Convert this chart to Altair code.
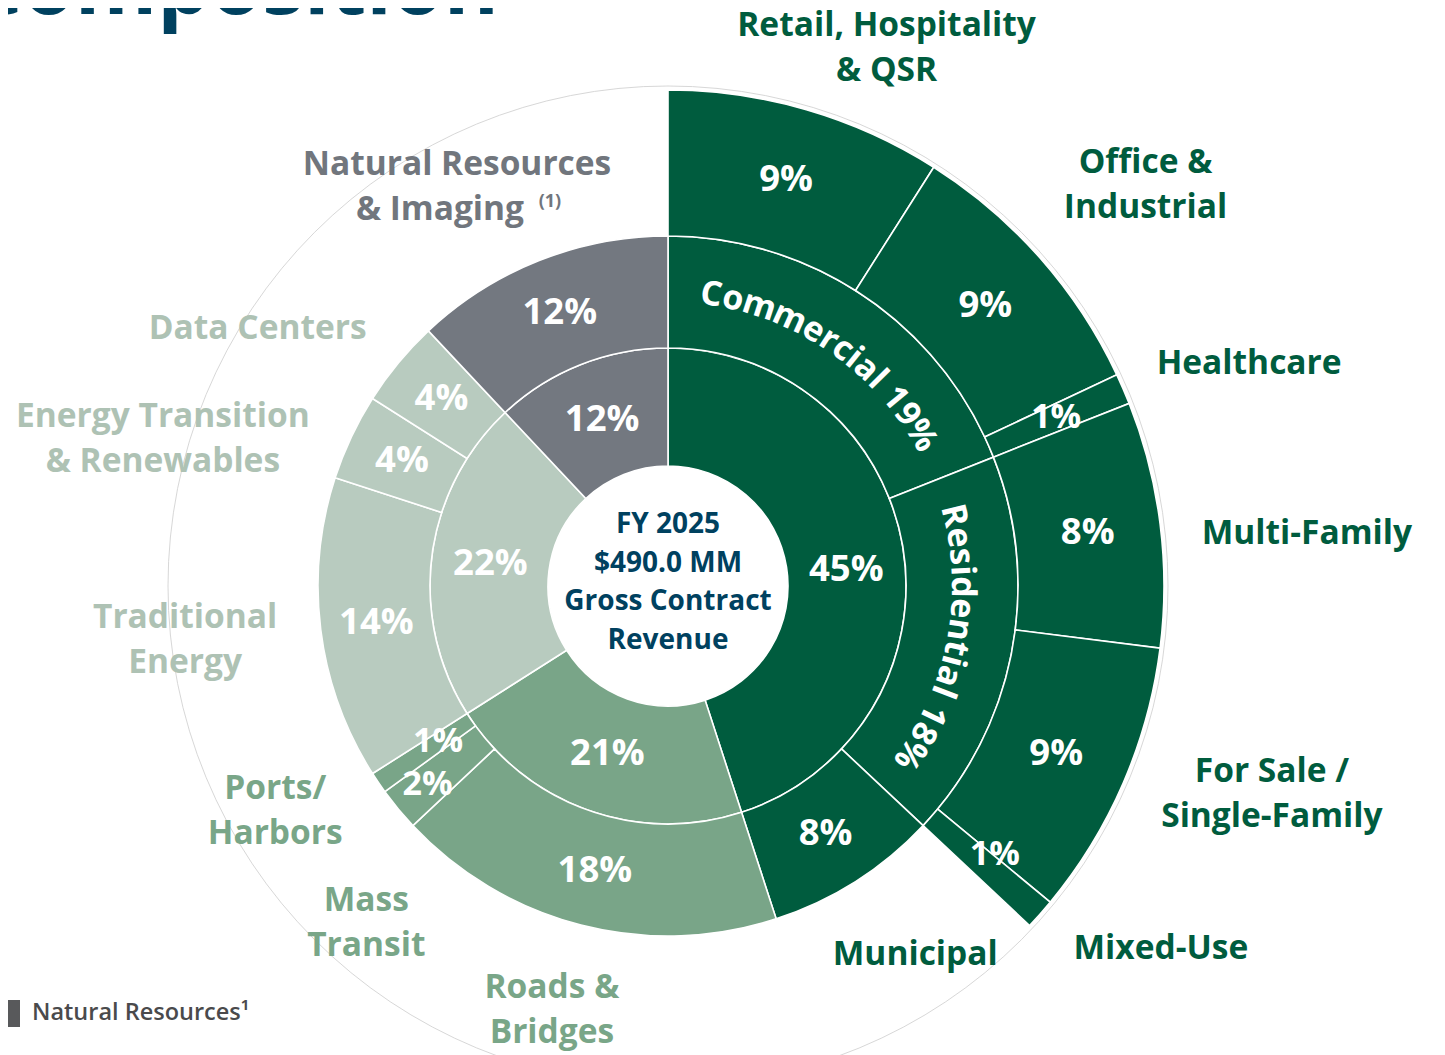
import math
import pandas as pd
import altair as alt

# ----------------------------- data -----------------------------
ring1_names = ["Building", "Infrastructure", "Energy", "Natural Resources"]
ring1_pct = [45, 21, 22, 12]

ring2_names = ["Commercial", "Residential", "Municipal",
               "Roads & Bridges", "Mass Transit", "Ports/Harbors",
               "Traditional Energy", "Energy Transition & Renewables", "Data Centers",
               "Natural Resources & Imaging"]
ring2_pct = [19, 18, 8, 18, 2, 1, 14, 4, 4, 12]
ring2_group = ["Building", "Building", "Building",
               "Infrastructure", "Infrastructure", "Infrastructure",
               "Energy", "Energy", "Energy", "Natural Resources"]

ring3_names = ["Retail, Hospitality & QSR", "Office & Industrial", "Healthcare",
               "Multi-Family", "For Sale / Single-Family", "Mixed-Use"]
ring3_pct = [9, 9, 1, 8, 9, 1]
ring3_group = ["Building"] * 6

curved_segments = ["Commercial", "Residential"]

outer_label_segments = ["Retail, Hospitality & QSR", "Office & Industrial", "Healthcare",
                        "Multi-Family", "For Sale / Single-Family", "Mixed-Use", "Municipal",
                        "Roads & Bridges", "Mass Transit", "Ports/Harbors", "Traditional Energy",
                        "Energy Transition & Renewables", "Data Centers",
                        "Natural Resources & Imaging"]
outer_label_text = [["Retail, Hospitality", "& QSR"], ["Office &", "Industrial"], ["Healthcare"],
                    ["Multi-Family"], ["For Sale /", "Single-Family"], ["Mixed-Use"], ["Municipal"],
                    ["Roads &", "Bridges"], ["Mass", "Transit"], ["Ports/", "Harbors"],
                    ["Traditional", "Energy"], ["Energy Transition", "& Renewables"],
                    ["Data Centers"], ["Natural Resources", "& Imaging"]]
footnote_mark = "(1)"

center_lines = ["FY 2025", "$490.0 MM", "Gross Contract", "Revenue"]
title_text = "Composition"
legend_text = "Natural Resources\u00b9"

# ----------------------------- layout / style -----------------------------
FONT = "Open Sans"
CX, CY = 660, 578
RING_R = [120, 238, 350, 496]
GUIDE_R = 500
FILL = {"Building": "#005C3E", "Infrastructure": "#79A588",
        "Energy": "#B8CBBF", "Natural Resources": "#737880"}
LABEL_COLOR = {"Building": "#005C3E", "Infrastructure": "#79A688",
               "Energy": "#AEC2B4", "Natural Resources": "#71767D"}
NAVY = "#00415F"
# outer label anchors: (angle as % of full circle, radius px)
OUTER_POS = [(6.15, 580), (13.9, 623), (19.2, 622), (23.7, 641), (30.3, 639), (35.1, 612),
             (40.6, 444), (54.25, 440), (61.6, 453), (66.7, 453), (73.2, 486), (79.5, 526),
             (83.9, 484), (92.25, 451)]
LINE_DX = {("Natural Resources & Imaging", 1): -17}
LINE_H = 45
PCT_NUDGE = {"Building": (1.1, 0), "Mass Transit": (0, 18),
             "Ports/Harbors": (0, -16), "Mixed-Use": (-0.55, 0)}
CHAR_W = {' ': 0.26, '%': 0.838, '0': 0.572, '1': 0.572, '8': 0.572, '9': 0.572,
          'C': 0.637, 'R': 0.66, 'a': 0.595, 'c': 0.49, 'd': 0.614, 'e': 0.575, 'i': 0.29,
          'l': 0.29, 'm': 0.936, 'n': 0.631, 'o': 0.604, 'r': 0.433, 's': 0.494, 't': 0.418}
CURVE_SIZE = 34
CURVE_SPACING = 1.0

THETA = alt.Scale(domain=[0, 100], range=[0, 2 * math.pi])

# ----------------------------- tables -----------------------------
seg_rows = []


def add_ring(level, names, pcts, groups):
    start = 0.0
    for n, p, g in zip(names, pcts, groups):
        seg_rows.append(dict(name=n, pct=p, group=g, t0=start, t1=start + p,
                             r_in=RING_R[level], r_out=RING_R[level + 1], fill=FILL[g]))
        start += p


add_ring(0, ring1_names, ring1_pct, ring1_names)
add_ring(1, ring2_names, ring2_pct, ring2_group)
add_ring(2, ring3_names, ring3_pct, ring3_group)
seg = pd.DataFrame(seg_rows)

pct_rows, curve_rows = [], []
for r in seg_rows:
    mid_t = (r["t0"] + r["t1"]) / 2
    mid_r = (r["r_in"] + r["r_out"]) / 2
    if r["name"] in curved_segments:
        txt = f'{r["name"]} {r["pct"]}%'
        widths = [CHAR_W.get(c, 0.58) * CURVE_SIZE + CURVE_SPACING for c in txt]
        total = sum(widths)
        span = total / mid_r / (2 * math.pi) * 100
        start = mid_t - span / 2
        cum = 0.0
        for c, w in zip(txt, widths):
            t = start + (cum + w / 2) / mid_r / (2 * math.pi) * 100
            cum += w
            if c == " ":
                continue
            curve_rows.append(dict(ch=c, t=t, r=mid_r, ang=t * 3.6))
        continue
    dt, dr = PCT_NUDGE.get(r["name"], (0, 0))
    small = r["pct"] <= 2
    pct_rows.append(dict(text=f'{r["pct"]}%', t=mid_t + dt, r=mid_r + dr,
                         size=34 if small else 36.5))

seg_group = {r["name"]: r["group"] for r in seg_rows}
lab_rows, sup_rows = [], []
for name, lines, (tp, rad) in zip(outer_label_segments, outer_label_text, OUTER_POS):
    n = len(lines)
    for i, line in enumerate(lines):
        dx = LINE_DX.get((name, i), 0)
        lab_rows.append(dict(text=line, t=tp, r=rad, ox=CX + dx,
                             oy=CY + (i - (n - 1) / 2) * LINE_H,
                             color=LABEL_COLOR[seg_group[name]]))
    if name == "Natural Resources & Imaging":
        sup_rows.append(dict(text=footnote_mark, t=tp, r=rad, ox=CX + 93,
                             oy=CY + LINE_H / 2 - 8, color=LABEL_COLOR[seg_group[name]]))

center_rows = [dict(text=s, ox=CX, oy=CY - 3 + (i - 1.5) * 38.7) for i, s in enumerate(center_lines)]

# ----------------------------- layers -----------------------------
guide = alt.Chart(pd.DataFrame({"t0": [0], "t1": [100]})).mark_arc(
    fill="white", stroke="#cdcdcd", strokeWidth=0.8, radius=GUIDE_R
).encode(x=alt.value(CX), y=alt.value(CY),
         theta=alt.Theta("t0:Q", scale=THETA), theta2="t1:Q")

arcs = alt.Chart(seg).mark_arc(stroke="white", strokeWidth=1.6).encode(
    x=alt.value(CX), y=alt.value(CY),
    theta=alt.Theta("t0:Q", scale=THETA), theta2="t1:Q",
    radius=alt.Radius("r_out:Q", scale=None), radius2="r_in:Q",
    color=alt.Color("fill:N", scale=None),
    tooltip=["name:N", "pct:Q"],
)

pct_text = alt.Chart(pd.DataFrame(pct_rows)).mark_text(
    font=FONT, fontWeight="bold", color="white"
).encode(x=alt.value(CX), y=alt.value(CY),
         theta=alt.Theta("t:Q", scale=THETA), radius=alt.Radius("r:Q", scale=None),
         size=alt.Size("size:Q", scale=None), text="text:N")

curve_text = alt.Chart(pd.DataFrame(curve_rows)).mark_text(
    font=FONT, fontSize=CURVE_SIZE, fontWeight="bold", color="white"
).encode(x=alt.value(CX), y=alt.value(CY),
         theta=alt.Theta("t:Q", scale=THETA), radius=alt.Radius("r:Q", scale=None),
         angle=alt.Angle("ang:Q", scale=None), text="ch:N")

outer_text = alt.Chart(pd.DataFrame(lab_rows)).mark_text(
    font=FONT, fontSize=33.5, fontWeight="bold"
).encode(x=alt.X("ox:Q", scale=None), y=alt.Y("oy:Q", scale=None),
         theta=alt.Theta("t:Q", scale=THETA), radius=alt.Radius("r:Q", scale=None),
         color=alt.Color("color:N", scale=None), text="text:N")

sup_text = alt.Chart(pd.DataFrame(sup_rows)).mark_text(
    font=FONT, fontSize=18, fontWeight="bold"
).encode(x=alt.X("ox:Q", scale=None), y=alt.Y("oy:Q", scale=None),
         theta=alt.Theta("t:Q", scale=THETA), radius=alt.Radius("r:Q", scale=None),
         color=alt.Color("color:N", scale=None), text="text:N")

center_text = alt.Chart(pd.DataFrame(center_rows)).mark_text(
    font=FONT, fontSize=28, fontWeight="bold", color=NAVY
).encode(x=alt.X("ox:Q", scale=None), y=alt.Y("oy:Q", scale=None), text="text:N")

title = alt.Chart(pd.DataFrame({"text": [title_text]})).mark_text(
    font=FONT, fontSize=84, fontWeight="bold", color=NAVY, align="right", baseline="alphabetic"
).encode(x=alt.value(491), y=alt.value(6), text="text:N")

legend_box = alt.Chart(pd.DataFrame({"k": [legend_text]})).mark_rect(color="#58595B").encode(
    x=alt.value(0), x2=alt.value(12), y=alt.value(992), y2=alt.value(1019))

legend_lbl = alt.Chart(pd.DataFrame({"text": [legend_text]})).mark_text(
    font=FONT, fontSize=23.5, fontWeight=600, color="#4A4A4C", align="left"
).encode(x=alt.value(24), y=alt.value(1005), text="text:N")

chart = alt.layer(
    guide, arcs, pct_text, curve_text, outer_text, sup_text, center_text, title,
    legend_box, legend_lbl
).properties(
    width=1429, height=1047, autosize=alt.AutoSizeParams(type="none"), padding=0,
    background="white"
).configure_view(stroke=None)

chart.save("out.html", embed_options={"renderer": "svg", "actions": False})
